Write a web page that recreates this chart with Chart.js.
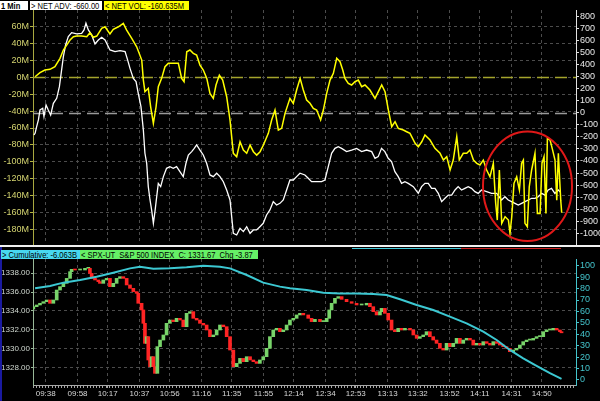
<!DOCTYPE html>
<html>
<head>
<meta charset="utf-8">
<script src="https://cdn.jsdelivr.net/npm/chart.js@4/dist/chart.umd.min.js"></script>
<style>
  body { margin: 0; background: #000; width: 600px; height: 401px; overflow: hidden; position: relative; }
  canvas { position: absolute; left: 0; }
  #top { top: 0; }
  #bottom { top: 247px; }
  .tag { position: absolute; height: 9px; line-height: 9px; font: 9px 'Liberation Sans', Arial, sans-serif; color: #000; padding-left: 1px; white-space: nowrap; box-sizing: border-box; overflow: hidden; }
  .tag span { display: inline-block; transform: scaleX(0.84); transform-origin: 0 50%; }
  .bar { position: absolute; }
</style>
</head>
<body>
<canvas id="top" width="600" height="245"></canvas>
<canvas id="bottom" width="600" height="154"></canvas>

<div class="tag" style="left:0;top:1px;width:28px;background:#fff;font-weight:bold"><span>1 Min</span></div>
<div class="tag" style="left:30px;top:1px;width:72px;background:#fff"><span>&gt; NET ADV: -660.00</span></div>
<div class="tag" style="left:104px;top:1px;width:85px;background:#ffff00"><span>&lt; NET VOL: -160.635M</span></div>

<div class="bar" style="left:0;top:245px;width:600px;height:2px;background:#f0f0f0"></div>
<div class="bar" style="left:352px;top:248px;width:109px;height:1px;background:#40c8d8"></div>
<div class="bar" style="left:461px;top:248px;width:100px;height:1px;background:#d02020"></div>
<div class="bar" style="left:0;top:247px;width:2px;height:154px;background:#1a1aa0"></div>

<div class="tag" style="left:1px;top:250px;width:79px;background:#48d8f0"><span>&gt; Cumulative: -6.063B</span></div>
<div class="tag" style="left:80px;top:250px;width:178px;background:#66f066"><span>&lt; SPX-UT &nbsp;S&amp;P 500 INDEX &nbsp;C: 1331.67 &nbsp;Chg -3.87</span></div>

<script>
// minutes since 09:30
const timeTicks = [8, 28, 47, 67, 86, 106, 125, 145, 164, 184, 203, 223, 242, 262, 281, 301, 320];
const timeLabels = ['09:38', '09:58', '10:17', '10:37', '10:56', '11:16', '11:35', '11:55', '12:14', '12:34', '12:53', '13:13', '13:32', '13:52', '14:11', '14:31', '14:50'];
const xMax = 341.5;

const volTicks = [-180, -160, -140, -120, -100, -80, -60, -40, -20, 0, 20, 40, 60];
const advTicks = [-1000, -900, -800, -700, -600, -500, -400, -300, -200, -100, 0, 100, 200, 300, 400, 500, 600, 700, 800];
const priceTicks = [1328, 1330, 1332, 1334, 1336, 1338];
const cumTicks = [0, 10, 20, 30, 40, 50, 60, 70, 80, 90, 100];

// NET VOL (millions)
const volMin = [1.3, 4.4, 7.5, 10.7, 13.8, 17.0, 19.1, 21.2, 23.3, 25.4, 27.5, 30.6, 33.8, 35.8, 37.9, 40.1, 43.2, 45.3, 48.4, 50.5,
  53.7, 56.8, 58.9, 62.1, 65.2, 68.4, 69.4, 70.4, 72.5, 74.0, 75.7, 77.4, 78.8, 80.9, 83.0, 85.1, 88.3, 91.4, 93.5, 95.0,
  96.7, 98.7, 100.8, 102.9, 105.0, 107.1, 109.3, 111.3, 113.4, 115.1, 117.2, 119.3, 121.8, 123.9, 126.0, 128.1, 130.2, 132.3, 134.4, 136.5,
  138.6, 140.7, 142.8, 144.9, 148.0, 150.1, 152.2, 154.3, 156.4, 158.5, 161.6, 163.7, 165.8, 168.0, 170.0, 172.1, 174.2, 176.3, 178.4, 180.9,
  182.6, 184.7, 186.8, 188.9, 191.0, 193.1, 194.8, 196.2, 198.3, 200.4, 202.5, 204.6, 206.7, 208.8, 211.9, 215.1, 217.2, 219.3, 221.4, 223.5,
  225.6, 227.7, 229.7, 232.9, 235.0, 237.1, 240.3, 242.3, 244.5, 246.5, 249.7, 252.8, 256.0, 258.1, 260.2, 262.3, 264.3, 266.5, 268.1, 270.6,
  272.8, 274.8, 277.0, 279.1, 281.1, 283.2, 285.3, 287.4, 289.5, 291.0, 292.0, 293.3, 294.8, 296.9, 299.0, 300.0, 301.1, 302.5, 304.2, 305.9,
  307.3, 308.4, 309.4, 310.9, 312.1, 313.6, 315.7, 317.2, 318.9, 320.1, 321.4, 322.6, 323.5, 325.2, 326.8, 328.3, 329.4, 330.4, 331.9, 332.5];
const volVal = [0.8, 5.6, 8.8, 9.6, 12.7, 22.7, 32.5, 38.4, 44.4, 48.3, 49.1, 49.1, 48.3, 53.0, 47.6, 49.1, 58.2, 60.1, 51.5, 57.0,
  60.1, 64.2, 56.2, 46.4, 36.4, 20.6, -3.1, -16.9, -12.9, -34.8, -54.4, -34.8, -11.0, -1.1, 12.7, 16.7, 16.7, 16.7, -1.1, -5.1,
  30.5, 32.5, 28.6, 26.6, 14.7, 8.8, -1.1, -18.9, -24.8, -9.0, 2.8, -3.1, -22.9, -50.5, -90.0, -94.0, -76.3, -86.2, -90.0, -80.2,
  -88.1, -92.1, -88.1, -80.2, -66.3, -50.5, -38.7, -62.4, -60.4, -42.6, -24.8, -30.7, -14.9, -1.1, -14.9, -26.8, -30.7, -36.7, -38.7, -50.5,
  -38.7, -18.9, -3.1, 4.9, 22.7, 18.6, 8.8, -1.1, -7.0, -9.0, -5.1, -3.1, -11.0, -9.0, -14.9, -24.8, -16.9, -9.0, -16.9, -38.7,
  -58.5, -52.5, -60.4, -62.4, -64.4, -66.3, -78.2, -82.2, -76.3, -68.3, -74.3, -84.1, -90.0, -98.0, -94.0, -109.8, -98.0, -70.3, -98.0, -90.0,
  -90.0, -86.2, -98.0, -101.9, -103.8, -98.0, -109.8, -117.8, -101.9, -149.4, -169.2, -109.8, -173.1, -165.3, -169.2, -184.9, -165.3, -125.6, -117.8, -133.6,
  -101.9, -98.0, -173.1, -177.1, -129.7, -109.8, -90.0, -161.3, -161.3, -101.9, -94.0, -161.3, -72.3, -74.3, -86.2, -98.0, -145.6, -90.0, -145.6, -160.6];

// NET ADV
const advMin = [0.6, 1.3, 2.3, 3.4, 4.4, 6.1, 6.9, 8.2, 9.6, 11.1, 12.8, 14.9, 16.6, 18.0, 19.1, 20.5, 22.2, 24.3, 27.5, 30.6,
  32.1, 33.3, 34.8, 36.9, 39.0, 41.1, 43.2, 45.3, 48.4, 51.6, 54.7, 57.9, 59.5, 61.0, 63.1, 64.8, 66.2, 67.9, 69.4, 70.4,
  71.5, 72.5, 73.6, 74.6, 75.7, 76.7, 77.8, 78.8, 80.3, 82.0, 84.0, 86.1, 88.2, 90.3, 92.4, 94.5, 96.2, 97.7, 99.8, 101.4,
  102.9, 105.0, 107.1, 109.2, 111.3, 113.4, 115.5, 117.6, 119.7, 121.8, 123.9, 126.0, 128.1, 130.2, 132.3, 134.4, 136.5, 138.6, 140.6, 142.7,
  144.8, 146.9, 149.0, 151.1, 153.2, 155.3, 157.4, 159.5, 161.6, 163.7, 165.8, 167.9, 171.0, 173.1, 175.2, 178.4, 181.5, 183.6, 185.7, 187.8,
  189.9, 192.0, 194.1, 197.2, 200.4, 203.5, 206.7, 209.8, 213.0, 215.1, 217.1, 219.2, 221.3, 223.4, 225.5, 227.6, 229.7, 231.8, 233.9, 236.0,
  239.2, 242.3, 244.4, 246.5, 248.6, 250.7, 252.8, 254.9, 257.0, 259.1, 261.2, 263.3, 265.4, 267.4, 269.5, 271.6, 273.7, 275.8, 277.9, 280.0,
  282.1, 285.3, 288.4, 291.6, 294.7, 296.8, 298.9, 301.0, 303.1, 305.2, 307.3, 309.4, 311.5, 313.6, 315.7, 317.8, 319.9, 322.0, 324.0, 326.1,
  328.2, 330.3, 331.8];
const advVal = [-184, -170, -115, -59, 24, 38, -31, 66, 24, -18, 79, 121, 218, 357, 467, 564, 634, 667, 656, 661,
  689, 745, 689, 648, 573, 606, 628, 606, 523, 509, 517, 509, 440, 370, 287, 260, 163, 52, -142, -336,
  -419, -613, -724, -807, -918, -821, -696, -586, -613, -530, -461, -447, -461, -447, -489, -530, -419, -350, -322, -295,
  -267, -309, -350, -419, -516, -530, -502, -530, -572, -641, -724, -1001, -1015, -960, -987, -946, -1001, -973, -973, -946,
  -918, -849, -807, -738, -766, -752, -724, -641, -558, -558, -530, -502, -516, -544, -572, -572, -572, -558, -447, -336,
  -295, -281, -295, -322, -309, -295, -322, -309, -322, -378, -364, -295, -322, -378, -405, -489, -530, -586, -572, -586,
  -613, -669, -613, -586, -586, -627, -627, -669, -738, -710, -683, -683, -641, -613, -641, -627, -613, -627, -655, -669,
  -641, -655, -669, -669, -724, -697, -724, -738, -752, -766, -752, -738, -724, -710, -710, -697, -669, -683, -641, -627,
  -669, -641, -660];

// S&P 500 closes
const priceMin = [0.2, 2.3, 4.4, 6.5, 8.6, 10.7, 12.8, 14.9, 17.0, 19.1, 21.2, 23.3, 24.3, 26.4, 29.6, 32.7, 34.8, 35.8, 36.9, 39.0,
  41.1, 42.1, 44.2, 46.3, 48.4, 50.5, 52.6, 54.7, 56.8, 58.9, 61.0, 63.1, 65.2, 66.2, 68.3, 69.4, 70.4, 71.5, 72.5, 73.6,
  74.6, 75.7, 76.7, 78.2, 79.9, 82.0, 84.0, 86.1, 88.2, 90.3, 92.4, 94.5, 96.6, 98.7, 100.8, 102.9, 105.0, 107.1, 109.2, 111.3,
  113.4, 115.5, 117.6, 119.7, 121.8, 123.9, 126.0, 128.1, 130.2, 132.3, 134.4, 136.5, 138.6, 140.6, 142.7, 144.8, 146.9, 149.0, 151.1, 153.2,
  155.3, 157.4, 159.5, 161.6, 163.7, 165.8, 167.9, 170.0, 173.1, 175.2, 177.3, 180.5, 182.6, 184.7, 186.3, 187.8, 189.9, 192.0, 194.1, 197.2,
  200.4, 203.5, 206.7, 209.8, 211.9, 214.0, 216.1, 218.2, 219.2, 221.3, 223.4, 225.5, 227.6, 229.7, 231.8, 233.9, 237.1, 239.2, 241.3, 243.3,
  245.4, 247.5, 249.6, 251.7, 253.8, 255.9, 258.0, 260.1, 262.2, 264.3, 266.4, 268.5, 270.6, 272.7, 274.8, 276.9, 279.0, 281.1, 283.2, 285.3,
  287.4, 289.5, 291.6, 293.6, 295.7, 297.8, 299.9, 302.0, 304.1, 306.2, 308.3, 310.4, 312.5, 314.6, 316.7, 318.8, 320.9, 323.0, 325.1, 327.2,
  329.3, 331.4, 332.4];
const priceClose = [1334.45, 1334.63, 1334.81, 1334.98, 1335.16, 1334.81, 1335.16, 1336.22, 1336.58, 1336.93, 1337.46, 1338.17, 1338.42, 1338.35, 1338.35, 1338.53, 1338.53, 1337.99, 1337.46, 1337.29,
  1337.11, 1336.93, 1337.29, 1337.46, 1336.58, 1336.93, 1337.46, 1337.64, 1337.46, 1336.76, 1336.40, 1336.05, 1335.87, 1334.81, 1334.10, 1332.68, 1330.55, 1331.26, 1328.78, 1328.07,
  1329.13, 1328.07, 1327.36, 1330.20, 1330.90, 1331.44, 1332.68, 1333.03, 1332.86, 1333.21, 1333.03, 1332.32, 1333.74, 1333.92, 1333.21, 1333.03, 1332.68, 1332.50, 1331.97, 1331.26,
  1331.44, 1331.97, 1332.50, 1332.32, 1331.26, 1329.84, 1328.07, 1328.42, 1328.95, 1328.60, 1329.13, 1328.78, 1328.60, 1328.42, 1328.78, 1329.13, 1330.02, 1331.26, 1331.97, 1332.15,
  1331.79, 1331.97, 1332.50, 1333.03, 1333.21, 1333.57, 1333.74, 1333.57, 1333.21, 1332.86, 1333.10, 1332.86, 1332.86, 1333.21, 1334.10, 1334.81, 1335.34, 1335.52, 1335.23, 1334.98,
  1334.81, 1334.63, 1334.63, 1334.81, 1334.45, 1333.92, 1333.57, 1333.92, 1334.27, 1333.74, 1333.03, 1331.97, 1331.79, 1332.15, 1331.97, 1332.15, 1331.97, 1331.44, 1331.08, 1331.26,
  1331.44, 1331.79, 1331.26, 1330.90, 1330.55, 1330.02, 1329.84, 1330.55, 1330.20, 1330.55, 1331.08, 1330.55, 1330.90, 1331.08, 1330.90, 1330.37, 1330.55, 1330.37, 1330.73, 1330.55,
  1330.37, 1330.73, 1330.55, 1330.37, 1330.20, 1330.02, 1329.66, 1329.84, 1330.02, 1330.37, 1330.73, 1330.90, 1330.90, 1331.08, 1331.26, 1331.26, 1331.79, 1331.97, 1331.97, 1332.15,
  1331.97, 1331.79, 1331.67];
const firstOpen = 1334.2;

// Cumulative
const cumMin = [1.3, 10.7, 19.1, 29.6, 40.0, 50.5, 61.0, 67.3, 75.7, 86.1, 96.6, 107.1, 117.6, 123.9, 134.4, 144.8, 155.3, 161.6,
  172.1, 182.6, 193.0, 203.5, 214.0, 222.4, 230.8, 241.3, 251.7, 262.2, 272.7, 283.2, 291.6, 299.9, 308.3, 316.7, 325.1, 332.4];
const cumVal = [80.2, 82.3, 85.2, 87.5, 90.4, 93.9, 97.7, 99.2, 97.4, 97.7, 98.6, 100.0, 99.2, 97.7, 91.9, 85.2, 81.7, 80.2,
  78.8, 76.4, 75.8, 75.8, 75.3, 74.4, 70.6, 65.6, 61.3, 55.4, 49.6, 42.3, 35.0, 26.3, 19.0, 12.3, 5.9, 1.0];

// red ring drawn round the late-day swings
const ring = { min: 311, vol: -129, rMin: 28, rVol: 65 };

const FONT = "'Liberation Sans', Arial, sans-serif";
Chart.defaults.font.family = FONT;
Chart.defaults.font.size = 9;

const GRID = '#4c4c4c';
const pts = (xs, ys) => xs.map((m, i) => ({ x: m, y: ys[i] }));
const fixTicks = (values, isMajor) => scale => {
  scale.ticks = values.map(v => ({ value: v, major: isMajor ? isMajor(v) : true }));
};
const fixSize = (w, h) => scale => {
  if (w !== null) scale.width = w;
  if (h !== null) scale.height = h;
  scale.paddingTop = 0; scale.paddingBottom = 0;
  scale.paddingLeft = 0; scale.paddingRight = 0;
};
const majorColor = c => (c.tick && c.tick.major ? GRID : 'rgba(0,0,0,0)');

// bottom axis ruler: every 2 minutes plus the labelled times
const rulerTicks = [];
for (let m = 0; m <= xMax; m += 2) if (!timeTicks.includes(m)) rulerTicks.push(m);
const bottomTicks = rulerTicks.concat(timeTicks).sort((a, b) => a - b);

const zeroLines = {
  id: 'zeroLines',
  beforeDatasetsDraw(chart) {
    const { ctx, chartArea: a, scales } = chart;
    [[scales.yL, '#a4a42c'], [scales.yR, '#9a9a9a']].forEach(([s, col]) => {
      const y = Math.round(s.getPixelForValue(0)) + 0.5;
      ctx.save();
      ctx.strokeStyle = col;
      ctx.lineWidth = 1.5;
      ctx.setLineDash([12, 6]);
      ctx.beginPath();
      ctx.moveTo(a.left, y);
      ctx.lineTo(a.right, y);
      ctx.stroke();
      ctx.restore();
    });
  }
};

const ringPlugin = {
  id: 'ring',
  afterDatasetsDraw(chart) {
    const { ctx, scales } = chart;
    const cx = scales.x.getPixelForValue(ring.min);
    const cy = scales.yL.getPixelForValue(ring.vol);
    const rx = scales.x.getPixelForValue(ring.min + ring.rMin) - cx;
    const ry = scales.yL.getPixelForValue(ring.vol - ring.rVol) - cy;
    ctx.save();
    ctx.strokeStyle = '#e01818';
    ctx.lineWidth = 2;
    ctx.beginPath();
    ctx.ellipse(cx, cy, rx, ry, 0, 0, Math.PI * 2);
    ctx.stroke();
    ctx.restore();
  }
};

new Chart(document.getElementById('top'), {
  type: 'line',
  data: {
    datasets: [
      { label: 'NET VOL', data: pts(volMin, volVal), yAxisID: 'yL', borderColor: '#ffff00', borderWidth: 1.5, pointRadius: 0 },
      { label: 'NET ADV', data: pts(advMin, advVal), yAxisID: 'yR', borderColor: '#ffffff', borderWidth: 1.3, pointRadius: 0 }
    ]
  },
  options: {
    responsive: false, animation: false, devicePixelRatio: 1,
    layout: { padding: { top: 10, left: 0, right: 0, bottom: 0 } },
    plugins: { legend: { display: false }, tooltip: { enabled: false } },
    scales: {
      x: {
        type: 'linear', min: 0, max: xMax,
        afterBuildTicks: fixTicks(timeTicks),
        afterFit: fixSize(null, 1),
        ticks: { display: false, autoSkip: false },
        grid: { color: GRID, drawTicks: false },
        border: { display: false, dash: [3, 3] }
      },
      yL: {
        position: 'left', min: -197.6, max: 80,
        afterBuildTicks: fixTicks(volTicks),
        afterFit: fixSize(33, null),
        ticks: { color: '#d4d470', padding: 1, autoSkip: false, callback: v => v + 'M' },
        grid: { color: GRID, tickColor: '#b4b440', tickLength: 3, tickBorderDash: [] },
        border: { color: '#a8a840', dash: [3, 3] }
      },
      yR: {
        position: 'right', min: -1090, max: 855,
        afterBuildTicks: fixTicks(advTicks),
        afterFit: fixSize(24, null),
        ticks: { color: '#e8e8e8', padding: 1, autoSkip: false, callback: v => String(v) },
        grid: { drawOnChartArea: false, tickColor: '#e0e0e0', tickLength: 3, tickBorderDash: [] },
        border: { color: '#e0e0e0' }
      }
    }
  },
  plugins: [zeroLines, ringPlugin]
});

const candles = priceMin.map((m, i) => ({ x: m, y: [i ? priceClose[i - 1] : firstOpen, priceClose[i]] }));
const candleColors = candles.map(c => (c.y[1] >= c.y[0] ? '#78d46a' : '#ff2424'));

new Chart(document.getElementById('bottom'), {
  type: 'bar',
  data: {
    datasets: [
      { type: 'line', label: 'Cumulative', data: pts(cumMin, cumVal), yAxisID: 'yC', borderColor: '#3cc8d2', borderWidth: 2, pointRadius: 0, order: 1 },
      { type: 'bar', label: 'SPX', data: candles, yAxisID: 'yP', backgroundColor: candleColors, barThickness: 3, minBarLength: 1, order: 2 }
    ]
  },
  options: {
    responsive: false, animation: false, devicePixelRatio: 1,
    layout: { padding: { top: 12, left: 0, right: 0, bottom: 0 } },
    plugins: { legend: { display: false }, tooltip: { enabled: false } },
    scales: {
      x: {
        type: 'linear', min: 0, max: xMax, offset: false,
        afterBuildTicks: fixTicks(bottomTicks, v => timeTicks.includes(v)),
        afterFit: fixSize(null, 16),
        ticks: {
          color: '#d8d8d8', padding: 1, autoSkip: false, maxRotation: 0, minRotation: 0,
          font: { size: 8 },
          callback: (v, i, t) => (t[i].major ? timeLabels[timeTicks.indexOf(v)] : '')
        },
        grid: { color: majorColor, tickColor: '#a8a8a8', tickLength: 3, tickBorderDash: [], offset: false },
        border: { color: '#a8a8a8', dash: [3, 3] }
      },
      yP: {
        position: 'left', min: 1326.12, max: 1339.52,
        afterBuildTicks: fixTicks(priceTicks),
        afterFit: fixSize(33, null),
        ticks: { color: '#d0d8d0', padding: 1, autoSkip: false, font: { size: 8 }, callback: v => v.toFixed(2) },
        grid: { color: GRID, tickColor: '#98b898', tickLength: 2, tickBorderDash: [] },
        border: { color: '#98b898', dash: [3, 3] }
      },
      yC: {
        position: 'right', min: -4.4, max: 105.9,
        afterBuildTicks: fixTicks(cumTicks),
        afterFit: fixSize(24, null),
        ticks: { color: '#44c4cc', padding: 1, autoSkip: false, callback: v => String(v) },
        grid: { drawOnChartArea: false, tickColor: '#44c4cc', tickLength: 3, tickBorderDash: [] },
        border: { color: '#44c4cc' }
      }
    }
  }
});
</script>
</body>
</html>
